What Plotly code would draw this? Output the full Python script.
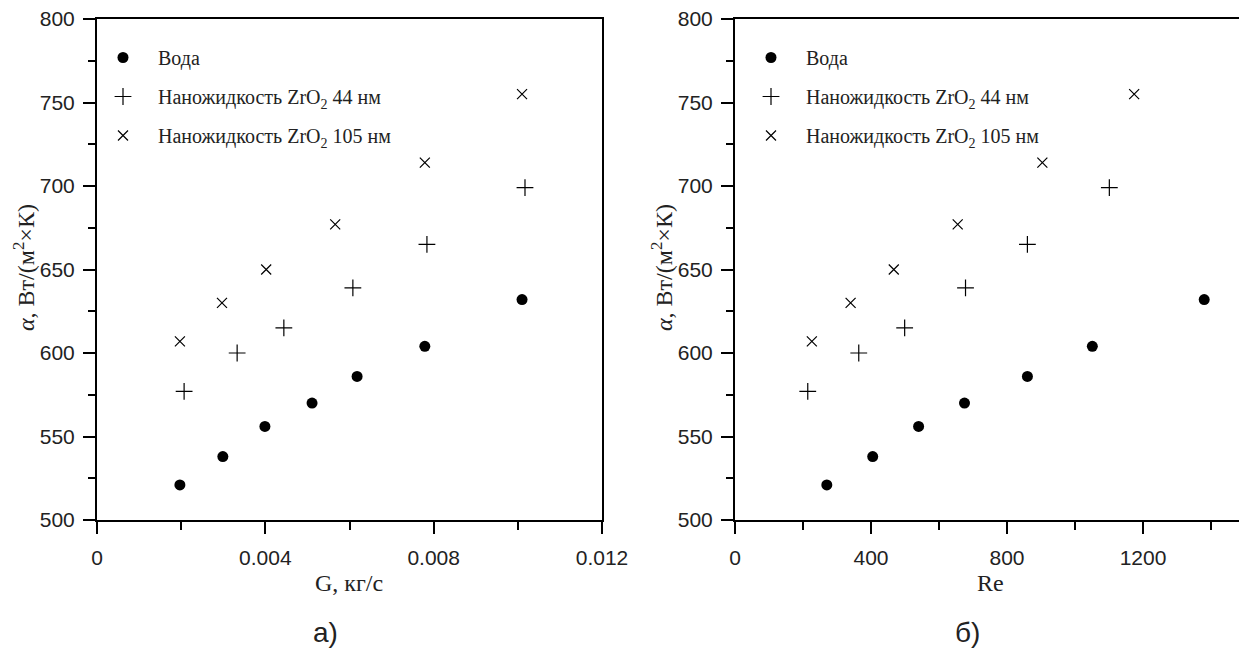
import plotly.graph_objects as go

# ---- data ----
g_water = [0.00197, 0.00299, 0.00399, 0.00511, 0.00618, 0.00779, 0.0101]
a_water = [521, 538, 556, 570, 586, 604, 632]
re_water = [270, 405, 540, 675, 860, 1051, 1380]

g_zr44 = [0.00207, 0.00333, 0.00444, 0.00608, 0.00784, 0.01017]
a_zr44 = [577, 600, 615, 639, 665, 699]
re_zr44 = [214, 364, 499, 678, 860, 1101]

g_zr105 = [0.00197, 0.00297, 0.00402, 0.00566, 0.00779, 0.0101]
a_zr105 = [607, 630, 650, 677, 714, 755]
re_zr105 = [226, 340, 467, 655, 904, 1174]

names = ["\u2002Вода", "\u2002Наножидкость ZrO<sub>2</sub> 44 нм", "\u2002Наножидкость ZrO<sub>2</sub> 105 нм"]

W, H = 1247, 666
OFF = 8  # page body margin
SERIF = "Liberation Serif"
SANS = "Liberation Sans"


def px(x):
    return (x - OFF) / W


def py(y):
    return 1 - (y - OFF) / H


fig = go.Figure()

markers = [
    dict(symbol="circle", size=11, color="black"),
    dict(symbol="cross-thin", size=12, color="black", line=dict(color="black", width=1.2)),
    dict(symbol="x-thin", size=10, color="black", line=dict(color="black", width=1.2)),
]

left = [(g_water, a_water), (g_zr44, a_zr44), (g_zr105, a_zr105)]
right = [(re_water, a_water), (re_zr44, a_zr44), (re_zr105, a_zr105)]

for i, (x, y) in enumerate(left):
    fig.add_trace(go.Scatter(x=x, y=y, mode="markers", name=names[i], marker=markers[i],
                             xaxis="x", yaxis="y", legend="legend", legendgroup=f"l{i}"))
for i, (x, y) in enumerate(right):
    fig.add_trace(go.Scatter(x=x, y=y, mode="markers", name=names[i], marker=markers[i],
                             xaxis="x2", yaxis="y2", legend="legend2", legendgroup=f"r{i}"))

tickfont = dict(family=SANS, size=21, color="#222")
titlefont = dict(family=SERIF, size=24, color="#222")

common_axis = dict(showline=True, linecolor="black", linewidth=2, mirror=True,
                   ticks="outside", ticklen=12, tickwidth=2, tickcolor="black",
                   showgrid=False, zeroline=False, tickfont=tickfont, automargin=False,
                   ticklabeloverflow="allow")

ytitle = "<i>α</i>, Вт/(м<sup>2</sup>×К)"
minor_x = dict(ticks="outside", ticklen=8, tickwidth=2, tickcolor="black")
minor_y = dict(ticks="outside", ticklen=7, tickwidth=2, tickcolor="black", dtick=25)

legend_common = dict(xanchor="left", yanchor="top", bgcolor="rgba(0,0,0,0)",
                     font=dict(family=SERIF, size=20, color="#222"), traceorder="grouped",
                     tracegroupgap=10, itemwidth=40)

fig.update_layout(
    width=W, height=H,
    margin=dict(l=0, r=0, t=0, b=0),
    paper_bgcolor="white", plot_bgcolor="white",
    xaxis=dict(domain=[px(97), px(602)], range=[0, 0.012], tickvals=[0, 0.004, 0.008, 0.012],
               ticktext=["0", "0.004", "0.008", "0.012"],
               minor=dict(dtick=0.002, **minor_x), ticklabelstandoff=6,
               anchor="y", **common_axis),
    yaxis=dict(domain=[py(520), py(19)], range=[500, 800], dtick=50, minor=minor_y,
               ticklabelstandoff=4, anchor="x", **common_axis),
    xaxis2=dict(domain=[px(735), px(1245)], range=[0, 1500], tickvals=[0, 400, 800, 1200],
                minor=dict(dtick=200, **minor_x), ticklabelstandoff=6,
                anchor="y2", **common_axis),
    yaxis2=dict(domain=[py(520), py(19)], range=[500, 800], dtick=50, minor=minor_y,
                ticklabelstandoff=4, anchor="x2", **common_axis),
    legend=dict(x=px(98), y=py(38), **legend_common),
    legend2=dict(x=px(746), y=py(38), **legend_common),
    annotations=[
        dict(text=ytitle, x=px(24), y=py(268), xref="paper", yref="paper", showarrow=False,
             textangle=-90, xanchor="center", yanchor="middle", font=titlefont),
        dict(text=ytitle, x=px(662), y=py(268), xref="paper", yref="paper", showarrow=False,
             textangle=-90, xanchor="center", yanchor="middle", font=titlefont),
        dict(text="G, кг/с", x=px(349), y=py(583), xref="paper", yref="paper", showarrow=False,
             xanchor="center", yanchor="middle", font=titlefont),
        dict(text="Re", x=px(990), y=py(583), xref="paper", yref="paper", showarrow=False,
             xanchor="center", yanchor="middle", font=titlefont),
        dict(text="а)", x=px(325), y=py(632), xref="paper", yref="paper", showarrow=False,
             xanchor="center", yanchor="middle", font=dict(family=SANS, size=28, color="#222")),
        dict(text="б)", x=px(967), y=py(632), xref="paper", yref="paper", showarrow=False,
             xanchor="center", yanchor="middle", font=dict(family=SANS, size=28, color="#222")),
    ],
)

fig.write_html("out.html")
